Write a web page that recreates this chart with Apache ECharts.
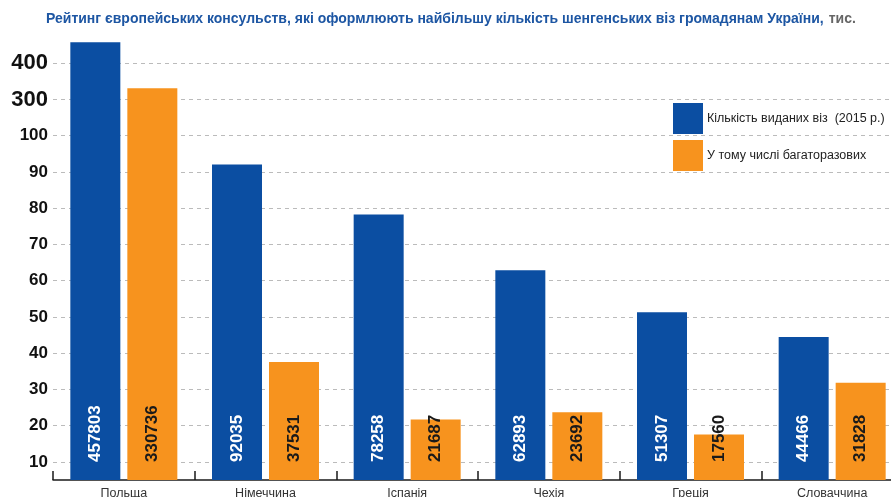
<!DOCTYPE html>
<html>
<head>
<meta charset="utf-8">
<script src="https://cdn.jsdelivr.net/npm/echarts@6/dist/echarts.min.js"></script>
<style>
    html, body {margin: 0; padding: 0; background: #fff;}
    #chart {width: 891px; height: 497px;}
</style>
</head>
<body>
<div id="chart"></div>
<script>
    // дані (тис. віз)
    var categories = ['Польща', 'Німеччина', 'Іспанія', 'Чехія', 'Греція', 'Словаччина'];
    var totalVisas = [457803, 92035, 78258, 62893, 51307, 44466];
    var multiVisas = [330736, 37531, 21687, 23692, 17560, 31828];
    var yTickLabels = [10, 20, 30, 40, 50, 60, 70, 80, 90, 100, 300, 400];
    var seriesNames = ['Кількість виданих віз  (2015 р.)', 'У тому числі багаторазових'];

    var fontFam = '"Liberation Sans", Arial, sans-serif';

    // розірвана шкала: кожна позначка займає один крок осі
    function toPos(v) {
        var t = v / 1000;
        if (t <= yTickLabels[0]) return t / yTickLabels[0];
        for (var i = 0; i < yTickLabels.length - 1; i++) {
            var a = yTickLabels[i], b = yTickLabels[i + 1];
            if (t <= b) return (i + 1) + (t - a) / (b - a);
        }
        var n = yTickLabels.length;
        return n + (t - yTickLabels[n - 1]) / (yTickLabels[n - 1] - yTickLabels[n - 2]);
    }

    var tickPos = [];
    for (var i = 0; i < yTickLabels.length; i++) {
        tickPos.push(i + 1);
    }

    function barData(arr) {
        var out = [];
        for (var i = 0; i < arr.length; i++) {
            out.push({value: toPos(arr[i]), raw: arr[i]});
        }
        return out;
    }

    function barLabel(color) {
        return {
            show: true,
            position: 'insideBottom',
            rotate: 90,
            align: 'left',
            verticalAlign: 'middle',
            distance: 18,
            fontSize: 17,
            fontWeight: 'bold',
            fontFamily: fontFam,
            color: color,
            formatter: function (p) {
                return p.data.raw;
            }
        };
    }

    var chart = echarts.init(document.getElementById('chart'));
    var option = {
        animation: false,
        title: {
            text: '{a|Рейтинг європейських консульств, які оформлюють найбільшу кількість шенгенських віз громадянам України,} {b|тис.}',
            left: 46,
            top: 10,
            padding: 0,
            textStyle: {
                rich: {
                    a: {fontSize: 14, fontWeight: 'bold', color: '#1d56a3', fontFamily: fontFam},
                    b: {fontSize: 14, fontWeight: 'bold', color: '#666', fontFamily: fontFam}
                }
            }
        },
        legend: {
            orient: 'vertical',
            left: 673,
            top: 103,
            itemWidth: 30,
            itemHeight: 31,
            itemGap: 6,
            icon: 'rect',
            padding: 0,
            textStyle: {fontSize: 12.5, color: '#222', fontFamily: fontFam, padding: [0, 0, 0, -1]},
            data: seriesNames
        },
        grid: {
            left: 53,
            width: 850,
            top: 27,
            bottom: 17,
            outerBoundsMode: 'none',
            containLabel: false
        },
        xAxis: {
            type: 'category',
            data: categories,
            axisLine: {lineStyle: {color: '#1a1a1a', width: 1.5}},
            axisTick: {show: true, inside: true, length: 9, lineStyle: {color: '#1a1a1a', width: 1.5}},
            axisLabel: {fontSize: 12.5, color: '#333', margin: 7, fontFamily: fontFam}
        },
        yAxis: {
            type: 'value',
            min: 0.5,
            max: 13,
            axisLine: {show: false},
            axisTick: {show: false, customValues: tickPos},
            splitLine: {show: true, lineStyle: {color: '#bbbbbb', type: [4, 4], width: 1}},
            axisLabel: {
                customValues: tickPos,
                margin: 5,
                formatter: function (v) {
                    var lab = yTickLabels[Math.round(v) - 1];
                    return lab >= 300 ? '{big|' + lab + '}' : '{sm|' + lab + '}';
                },
                rich: {
                    big: {fontSize: 22, fontWeight: 'bold', color: '#111', fontFamily: fontFam},
                    sm: {fontSize: 17, fontWeight: 'bold', color: '#111', fontFamily: fontFam}
                }
            }
        },
        series: [
            {
                name: seriesNames[0],
                type: 'bar',
                barWidth: 50,
                barGap: '14%',
                itemStyle: {color: '#0b4ea2'},
                label: barLabel('#ffffff'),
                data: barData(totalVisas)
            },
            {
                name: seriesNames[1],
                type: 'bar',
                barWidth: 50,
                itemStyle: {color: '#f7931e'},
                label: barLabel('#1a1a1a'),
                data: barData(multiVisas)
            }
        ]
    };
    chart.setOption(option, true);
</script>
</body>
</html>
